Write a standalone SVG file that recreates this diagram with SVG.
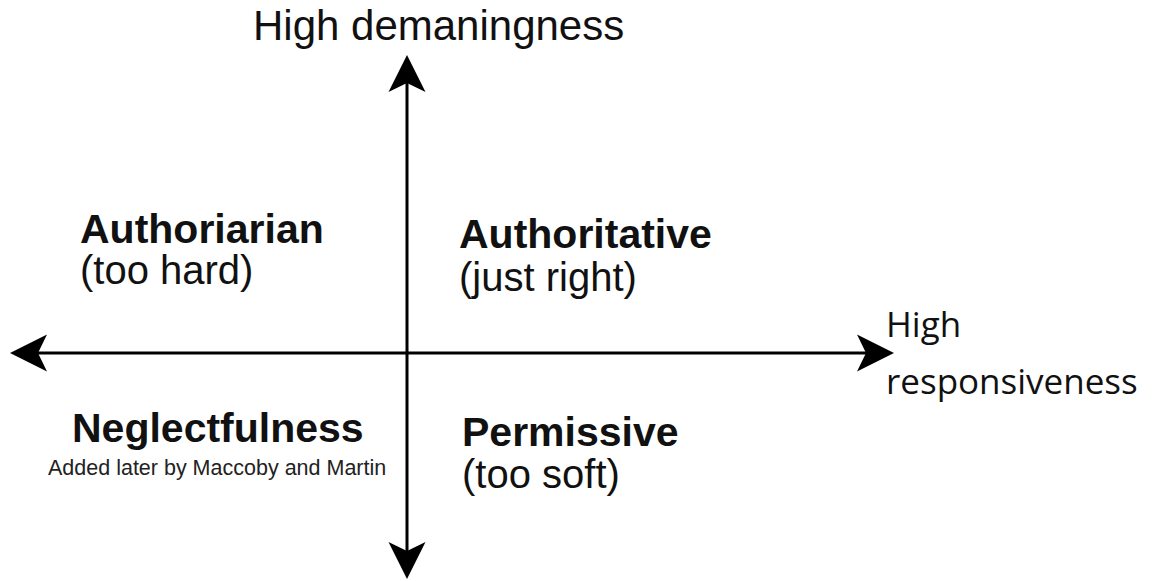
<svg xmlns="http://www.w3.org/2000/svg" width="1156" height="581" viewBox="0 0 1156 581">
<style>
.axis{stroke:#000;stroke-width:3;fill:none}
.t{font-family:"Liberation Sans",Arial,Helvetica,sans-serif;fill:#111}
.b{font-weight:bold;font-size:41px}
.r{font-size:40px}
.h{font-size:42px}
.s{font-size:21.5px;fill:#222}
.o{font-family:"Open Sans","Noto Sans",sans-serif;font-size:35px;fill:#111}
</style>
<defs>
<marker id="ah" markerUnits="userSpaceOnUse" markerWidth="40" markerHeight="40" viewBox="-10 -20 40 40" refX="0" refY="0" orient="auto-start-reverse" overflow="visible">
<path d="M28,0 L-9,-18.5 L0,0 L-9,18.5 Z" fill="#000"/>
</marker>
</defs>
<rect width="1156" height="581" fill="#fff"/>
<g id="connectors">
<line class="axis" x1="38" y1="353" x2="866" y2="353" marker-start="url(#ah)" marker-end="url(#ah)"/>
<line class="axis" x1="407" y1="551" x2="407" y2="83" marker-start="url(#ah)" marker-end="url(#ah)"/>
</g>
<g id="label-demandingness"><text class="t h" x="253" y="40">High demaningness</text></g>
<g id="label-responsiveness">
<text class="o" x="886" y="337">High</text>
<text class="o" x="886" y="394">responsiveness</text>
</g>
<g id="authoritarian">
<text class="t b" x="80" y="243">Authoriarian</text>
<text class="t r" x="80" y="284">(too hard)</text>
</g>
<g id="authoritative">
<text class="t b" x="459" y="248">Authoritative</text>
<text class="t r" x="459" y="291">(just right)</text>
</g>
<g id="neglectfulness">
<text class="t b" x="72" y="442">Neglectfulness</text>
<text class="t s" x="48" y="475">Added later by Maccoby and Martin</text>
</g>
<g id="permissive">
<text class="t b" x="462" y="446">Permissive</text>
<text class="t r" x="462" y="488">(too soft)</text>
</g>
</svg>
